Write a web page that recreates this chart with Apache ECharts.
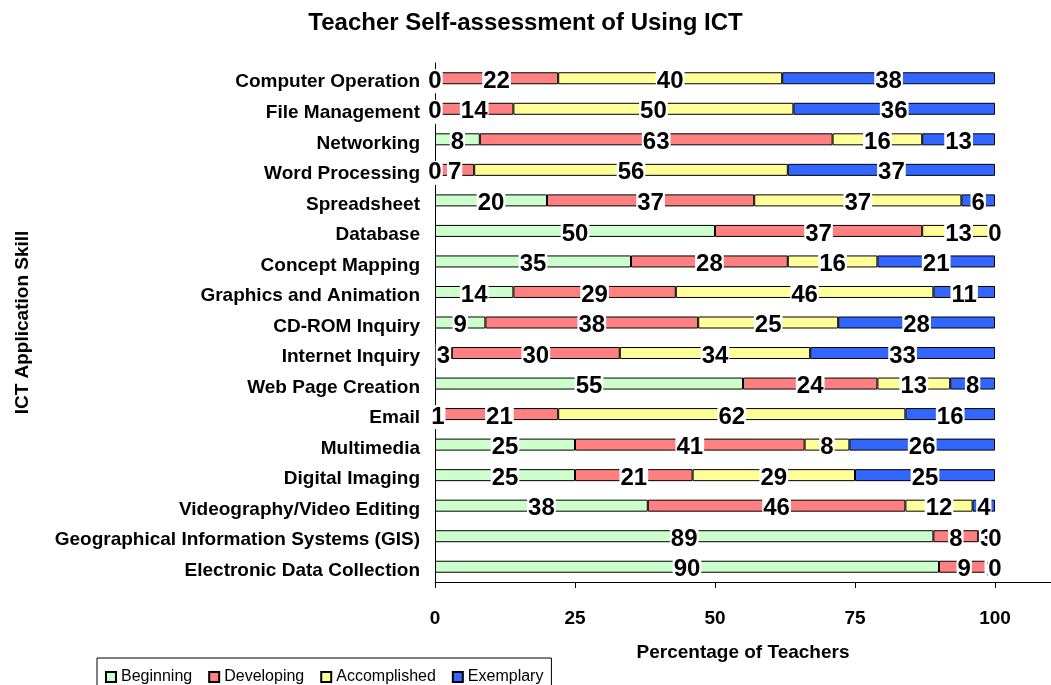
<!DOCTYPE html>
<html>
<head>
<meta charset="utf-8">
<script src="https://cdn.jsdelivr.net/npm/echarts@6/dist/echarts.min.js"></script>
<style>
  html, body { margin: 0; padding: 0; background: #fff; }
  #chart { width: 1051px; height: 685px; }
</style>
</head>
<body>
<div id="chart"></div>
<script>
// categories, top to bottom
const skills = [
  'Computer Operation', 'File Management', 'Networking', 'Word Processing',
  'Spreadsheet', 'Database', 'Concept Mapping', 'Graphics and Animation',
  'CD-ROM Inquiry', 'Internet Inquiry', 'Web Page Creation', 'Email',
  'Multimedia', 'Digital Imaging', 'Videography/Video Editing',
  'Geographical Information Systems (GIS)', 'Electronic Data Collection'
]
const beginning    = [0, 0, 8, 0, 20, 50, 35, 14, 9, 3, 55, 1, 25, 25, 38, 89, 90]
const developing   = [22, 14, 63, 7, 37, 37, 28, 29, 38, 30, 24, 21, 41, 21, 46, 8, 9]
const accomplished = [40, 50, 16, 56, 37, 13, 16, 46, 25, 34, 13, 62, 8, 29, 12, 3, 1]
const exemplary    = [38, 36, 13, 37, 6, 0, 21, 11, 28, 33, 8, 16, 26, 25, 4, 0, 0]
const xTicks = [0, 25, 50, 75, 100]

const font = "'Liberation Sans', Arial, sans-serif"

const chart = echarts.init(document.getElementById('chart'))

const makeSeries = (name, data, color) => ({
  name,
  type: 'bar',
  stack: 'total',
  data,
  barWidth: 12,
  itemStyle: { color, borderColor: '#000', borderWidth: 1 },
  label: {
    show: true,
    position: 'inside',
    offset: [0, 3],
    color: '#000',
    fontFamily: font,
    fontWeight: 'bold',
    fontSize: 24,
    backgroundColor: '#fff',
    padding: [0, 1],
  },
  emphasis: { disabled: true },
})

chart.setOption({
  animation: false,
  title: {
    text: 'Teacher Self-assessment of Using ICT',
    left: 'center',
    top: 6,
    textStyle: { fontFamily: font, fontWeight: 'bold', fontSize: 24, color: '#000' },
  },
  legend: {
    left: 97,
    top: 658,
    padding: [11, 8, 8, 8],
    borderColor: '#000',
    borderWidth: 1,
    itemWidth: 10,
    itemHeight: 10,
    itemGap: 16,
    icon: 'rect',
    textStyle: { fontFamily: font, fontSize: 16, color: '#000' },
  },
  grid: { left: 435, right: 0, top: 63, bottom: 103 },
  xAxis: {
    type: 'value',
    min: 0,
    max: 110,
    name: 'Percentage of Teachers',
    nameLocation: 'middle',
    nameGap: 61,
    nameTextStyle: { fontFamily: font, fontWeight: 'bold', fontSize: 19, color: '#000' },
    axisLine: { show: true, lineStyle: { color: '#000', width: 1 } },
    axisTick: { show: true, length: 6, customValues: xTicks, lineStyle: { color: '#000' } },
    axisLabel: {
      customValues: xTicks,
      margin: 27,
      fontFamily: font,
      fontWeight: 'bold',
      fontSize: 19,
      color: '#000',
    },
    splitLine: { show: false },
  },
  yAxis: {
    type: 'category',
    inverse: true,
    data: skills,
    name: 'ICT Application Skill',
    nameLocation: 'middle',
    nameRotate: 90,
    nameGap: 403,
    nameTextStyle: { fontFamily: font, fontWeight: 'bold', fontSize: 19, color: '#000' },
    axisLine: { show: true, lineStyle: { color: '#000', width: 1 } },
    axisTick: { show: false },
    axisLabel: {
      margin: 15,
      formatter: '{a|{value}}',
      rich: {
        a: {
          padding: [8, 0, 0, 0],
          fontFamily: font,
          fontWeight: 'bold',
          fontSize: 19,
          color: '#000',
        },
      },
    },
  },
  series: [
    makeSeries('Beginning', beginning, '#ccffcc'),
    makeSeries('Developing', developing, '#ff8080'),
    makeSeries('Accomplished', accomplished, '#ffff99'),
    makeSeries('Exemplary', exemplary, '#3366ff'),
  ],
})
</script>
</body>
</html>
